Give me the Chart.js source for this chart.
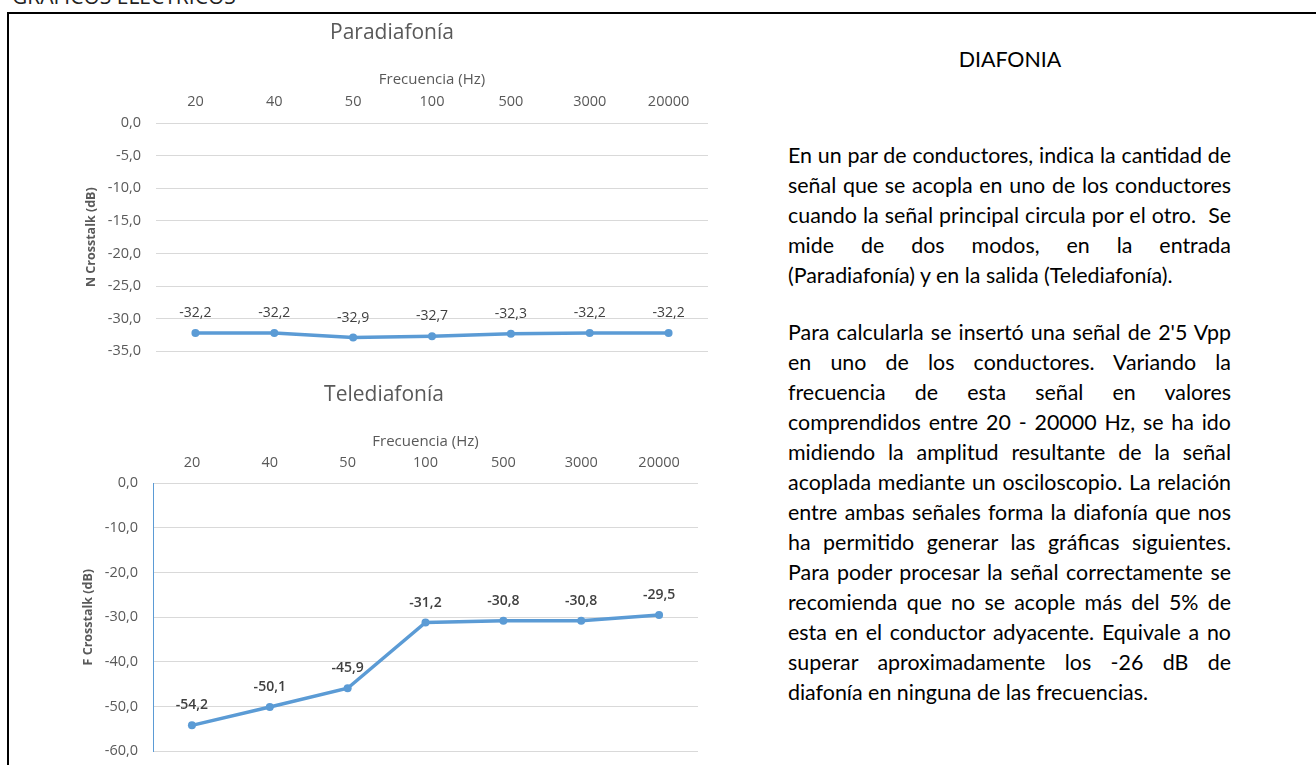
<!DOCTYPE html>
<html>
<head>
<meta charset="utf-8">
<script src="https://cdn.jsdelivr.net/npm/chart.js@4.4.0/dist/chart.umd.min.js"></script>
<style>
body { margin:0; width:1316px; height:765px; overflow:hidden; background:#fff; position:relative; font-family:Lato, sans-serif; }
#head { position:absolute; left:12px; top:-14px; font-family:'Open Sans', sans-serif; font-size:21px; line-height:21px; color:#222; white-space:nowrap; }
#box { position:absolute; left:7px; top:12px; width:1400px; height:900px; border:2px solid #000; }
.cv { position:absolute; left:0; }
#c1 { top:14px; }
#c2 { top:372px; }
#title { position:absolute; left:910px; top:44px; width:200px; text-align:center; line-height:30px; color:#000; }
.par { position:absolute; left:788px; width:443px; color:#000; }
.ln { height:30px; line-height:30px; white-space:nowrap; text-align:justify; text-align-last:justify; }
.ln.last { text-align-last:left; }
</style>
</head>
<body>
<div id="head">GRÁFICOS ELÉCTRICOS</div>
<div id="box"></div>
<canvas id="c1" class="cv" width="720" height="361"></canvas>
<canvas id="c2" class="cv" width="720" height="403"></canvas>
<div id="title">DIAFONIA</div>
<div class="par" style="top:140px">
  <div class="ln">En un par de conductores, indica la cantidad de</div>
  <div class="ln">señal que se acopla en uno de los conductores</div>
  <div class="ln">cuando la señal principal circula por el otro.&nbsp; Se</div>
  <div class="ln">mide de dos modos, en la entrada</div>
  <div class="ln last">(Paradiafonía) y en la salida (Telediafonía).</div>
</div>
<div class="par" style="top:317px">
  <div class="ln">Para calcularla se insertó una señal de 2'5 Vpp</div>
  <div class="ln">en uno de los conductores. Variando la</div>
  <div class="ln">frecuencia de esta señal en valores</div>
  <div class="ln">comprendidos entre 20 - 20000 Hz, se ha ido</div>
  <div class="ln">midiendo la amplitud resultante de la señal</div>
  <div class="ln">acoplada mediante un osciloscopio. La relación</div>
  <div class="ln">entre ambas señales forma la diafonía que nos</div>
  <div class="ln">ha permitido generar las gráficas siguientes.</div>
  <div class="ln">Para poder procesar la señal correctamente se</div>
  <div class="ln">recomienda que no se acople más del 5% de</div>
  <div class="ln">esta en el conductor adyacente. Equivale a no</div>
  <div class="ln">superar aproximadamente los -26 dB de</div>
  <div class="ln last">diafonía en ninguna de las frecuencias.</div>
</div>
<script>
// data
var freqLabels = ['20', '40', '50', '100', '500', '3000', '20000'];
var nextValues = [-32.2, -32.2, -32.9, -32.7, -32.3, -32.2, -32.2];  // Paradiafonía
var fextValues = [-54.2, -50.1, -45.9, -31.2, -30.8, -30.8, -29.5];  // Telediafonía

var lineColor = '#5B9BD5';
var textGrey = '#595959';
var gridGrey = '#D9D9D9';

Chart.defaults.font.family = "'Open Sans'";

function fmt(v) {
    return v.toFixed(1).replace('.', ',');
}

// size the paragraph text so the widest line fills the column
function fitText() {
    var lines = document.querySelectorAll('.ln');
    var ctx = document.createElement('canvas').getContext('2d');
    ctx.font = '20px Lato';
    var maxW = 0;
    for (var i = 0; i < lines.length; i++) {
        var w = ctx.measureText(lines[i].textContent).width;
        if (w > maxW) maxW = w;
    }
    var size = 20 * 441 / maxW;
    var pars = document.querySelectorAll('.par');
    for (var j = 0; j < pars.length; j++) pars[j].style.fontSize = size + 'px';
    document.getElementById('title').style.fontSize = size + 'px';
}
fitText();

var valueLabels = {
    id: 'valueLabels',
    afterDatasetsDraw: function (chart, args, opts) {
        var ctx = chart.ctx;
        chart.data.datasets.forEach(function (ds, i) {
            var meta = chart.getDatasetMeta(i);
            meta.data.forEach(function (pt, j) {
                ctx.save();
                ctx.font = opts.font;
                ctx.fillStyle = opts.color;
                ctx.textAlign = 'center';
                ctx.textBaseline = 'middle';
                ctx.fillText(fmt(ds.data[j]), pt.x, pt.y - 20);
                ctx.restore();
            });
        });
    }
};

function crossChart(canvasId, values, cfg) {
    return new Chart(document.getElementById(canvasId), {
        type: 'line',
        data: {
            labels: freqLabels,
            datasets: [{
                data: values,
                borderColor: lineColor,
                backgroundColor: lineColor,
                borderWidth: 3.5,
                pointRadius: 4,
                pointBorderWidth: 0,
                tension: 0,
                fill: false
            }]
        },
        options: {
            responsive: false,
            animation: false,
            layout: { padding: { left: cfg.padLeft, right: cfg.padRight, top: 0, bottom: 4 } },
            plugins: {
                legend: { display: false },
                tooltip: { enabled: false },
                title: {
                    display: true,
                    text: cfg.title,
                    color: textGrey,
                    font: { size: 21, weight: 'normal' },
                    padding: { top: cfg.titleTop, bottom: 9.4 }
                },
                valueLabels: { font: cfg.labelFont, color: cfg.labelColor }
            },
            scales: {
                x: {
                    position: 'top',
                    offset: true,
                    grid: { display: false, drawTicks: false },
                    border: { display: false },
                    ticks: { color: textGrey, font: { size: 14.5 }, padding: cfg.tickPad },
                    title: {
                        display: true,
                        text: 'Frecuencia (Hz)',
                        color: textGrey,
                        font: { size: 15 },
                        padding: { top: cfg.xTitlePad, bottom: 0 }
                    },
                    afterFit: function (scale) { scale.height = cfg.xHeight; }
                },
                y: {
                    min: cfg.min,
                    max: 0,
                    ticks: {
                        stepSize: cfg.step,
                        color: textGrey,
                        font: { size: 14.5 },
                        padding: 15,
                        callback: function (v) { return fmt(v); }
                    },
                    grid: { color: gridGrey, lineWidth: 1, drawTicks: false },
                    border: { display: cfg.axisLine, color: lineColor, width: 1 },
                    title: {
                        display: true,
                        text: cfg.yTitle,
                        color: textGrey,
                        font: { size: 12.5, weight: 'bold' },
                        padding: { top: cfg.yTitlePad, bottom: 0 }
                    },
                    afterFit: function (scale) { scale.width = cfg.yWidth; }
                }
            }
        },
        plugins: [valueLabels]
    });
}

crossChart('c1', nextValues, {
    title: 'Paradiafonía', titleTop: 6.4, xHeight: 68, tickPad: 12.3, xTitlePad: 16,
    min: -35, step: 5, yTitle: 'N Crosstalk (dB)', yTitlePad: 7.5, yWidth: 80,
    padLeft: 76, padRight: 12,
    axisLine: false, labelFont: "14px 'Open Sans'", labelColor: '#404040'
});

crossChart('c2', fextValues, {
    title: 'Telediafonía', titleTop: 10.4, xHeight: 66, tickPad: 11.6, xTitlePad: 15.7,
    min: -60, step: 10, yTitle: 'F Crosstalk (dB)', yTitlePad: 10.5, yWidth: 83,
    padLeft: 70, padRight: 22,
    axisLine: true, labelFont: "600 14px 'Open Sans'", labelColor: '#404040'
});
</script>
</body>
</html>
